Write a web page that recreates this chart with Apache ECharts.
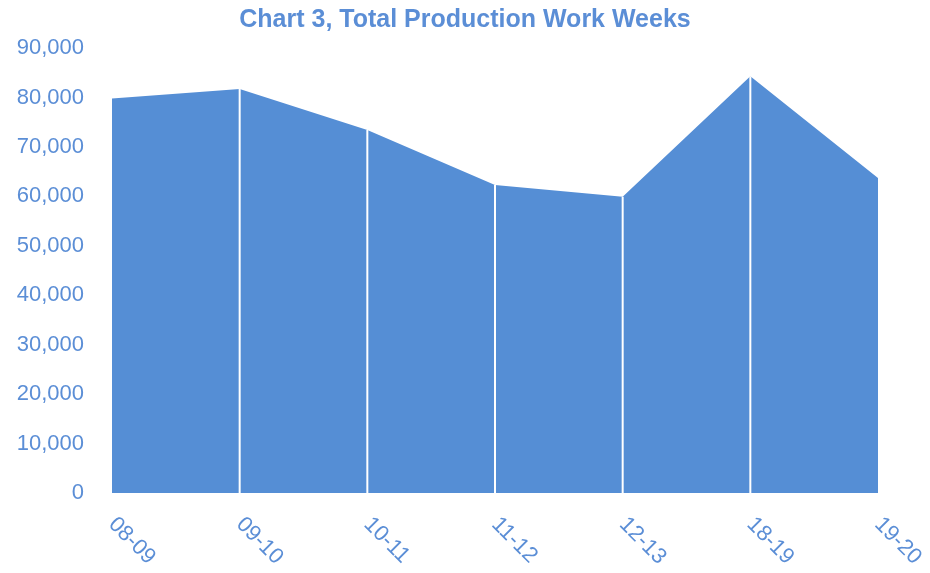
<html>
<head>
<meta charset="utf-8">
<script src="https://cdn.jsdelivr.net/npm/echarts@6/dist/echarts.min.js"></script>
</head>
<body style="margin:0">
    <div id="main" style="width: 930px;height:573px;"></div>
</body>
</html>
<script>
    // values
    var seasons = ['08-09', '09-10', '10-11', '11-12', '12-13', '18-19', '19-20'];
    var workWeeks = [79800, 81700, 73400, 62300, 59900, 84300, 63700];
    var yTicks = [0, 10000, 20000, 30000, 40000, 50000, 60000, 70000, 80000, 90000];

    // white separators only at interior points
    var dividers = workWeeks.map((v, i) => (i == 0 || i == workWeeks.length - 1) ? '-' : v);

    var chartDom = document.getElementById('main');
    var myChart = echarts.init(chartDom);
    var option;

    option = {
        animation: false,
        title: {
            text: 'Chart 3, Total Production Work Weeks',
            left: 'center',
            top: 3,
            textStyle: {
                color: '#5b8ed6',
                fontSize: 25,
                fontWeight: 'bold',
                fontFamily: 'Liberation Sans'
            }
        },
        grid: {
            left: 112,
            right: 52,
            top: 48,
            bottom: 80
        },
        xAxis: {
            type: 'category',
            data: seasons,
            boundaryGap: false,
            axisLine: { show: false },
            axisTick: { show: false },
            axisLabel: {
                rotate: -45,
                margin: 28,
                color: '#5b8ed6',
                fontSize: 22,
                fontFamily: 'Liberation Sans'
            }
        },
        yAxis: {
            type: 'value',
            min: yTicks[0],
            max: yTicks[yTicks.length - 1],
            interval: 10000,
            splitLine: { show: false },
            axisLine: { show: false },
            axisTick: { show: false },
            axisLabel: {
                margin: 28,
                color: '#5b8ed6',
                fontSize: 22,
                fontFamily: 'Liberation Sans',
                formatter: v => v.toLocaleString('en-US')
            }
        },
        series: [
            {
                name: 'Work weeks',
                type: 'line',
                data: workWeeks,
                symbol: 'none',
                z: 2,
                lineStyle: { width: 0 },
                areaStyle: { color: '#558ed5', opacity: 1 }
            },
            {
                name: 'divider',
                type: 'bar',
                data: dividers,
                barWidth: 2,
                z: 5,
                itemStyle: { color: '#ffffff' }
            }
        ]
    };

    option && myChart.setOption(option);
</script>
